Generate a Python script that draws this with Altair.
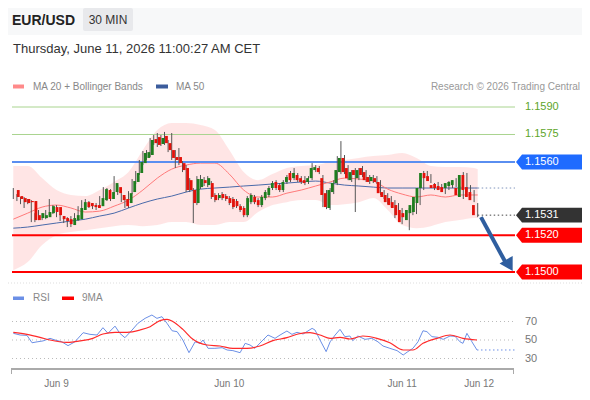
import altair as alt
import pandas as pd

FONT = "Liberation Sans"

# ---------------- data (30-minute EUR/USD bars; index 12 = Jun 9 00:00) ----------------
opens = [1.15447, 1.15414, 1.15403, 1.15398, 1.15387, 1.15387, 1.15310, 1.15294, 1.15294, 1.15299,
         1.15321, 1.15354, 1.15354, 1.15305, 1.15294, 1.15288, 1.15256, 1.15283, 1.15288, 1.15338,
         1.15381, 1.15376, 1.15365, 1.15365, 1.15359, 1.15392, 1.15447, 1.15398, 1.15436, 1.15463,
         1.15420, 1.15398, 1.15376, 1.15436, 1.15491, 1.15540, 1.15594, 1.15622, 1.15638, 1.15725,
         1.15736, 1.15698, 1.15742, 1.15703, 1.15665, 1.15627, 1.15627, 1.15594, 1.15567, 1.15501,
         1.15447, 1.15376, 1.15463, 1.15501, 1.15474, 1.15485, 1.15420, 1.15403, 1.15425, 1.15414,
         1.15403, 1.15398, 1.15387, 1.15359, 1.15349, 1.15310, 1.15381, 1.15409, 1.15392, 1.15365,
         1.15403, 1.15420, 1.15458, 1.15491, 1.15474, 1.15447, 1.15491, 1.15540, 1.15512, 1.15529,
         1.15512, 1.15501, 1.15491, 1.15512, 1.15556, 1.15567, 1.15512, 1.15430, 1.15349, 1.15436,
         1.15485, 1.15545, 1.15622, 1.15567, 1.15501, 1.15556, 1.15512, 1.15567, 1.15545, 1.15518,
         1.15496, 1.15512, 1.15491, 1.15436, 1.15420, 1.15403, 1.15381, 1.15365, 1.15338, 1.15321,
         1.15283, 1.15321, 1.15327, 1.15376, 1.15458, 1.15540, 1.15523, 1.15474, 1.15480, 1.15469,
         1.15463, 1.15458, 1.15469, 1.15474, 1.15458, 1.15409, 1.15529, 1.15463, 1.15436, 1.15365]
closes = [1.15409, 1.15398, 1.15381, 1.15376, 1.15381, 1.15283, 1.15283, 1.15321, 1.15310, 1.15327,
          1.15359, 1.15327, 1.15310, 1.15288, 1.15278, 1.15261, 1.15294, 1.15310, 1.15349, 1.15381,
          1.15354, 1.15359, 1.15354, 1.15349, 1.15403, 1.15452, 1.15398, 1.15436, 1.15485, 1.15430,
          1.15392, 1.15359, 1.15430, 1.15496, 1.15540, 1.15600, 1.15649, 1.15654, 1.15720, 1.15703,
          1.15693, 1.15731, 1.15703, 1.15665, 1.15622, 1.15611, 1.15594, 1.15556, 1.15447, 1.15447,
          1.15376, 1.15507, 1.15507, 1.15485, 1.15512, 1.15409, 1.15392, 1.15420, 1.15403, 1.15398,
          1.15376, 1.15354, 1.15359, 1.15338, 1.15310, 1.15403, 1.15420, 1.15381, 1.15365, 1.15409,
          1.15436, 1.15458, 1.15485, 1.15458, 1.15447, 1.15491, 1.15518, 1.15501, 1.15540, 1.15501,
          1.15491, 1.15485, 1.15512, 1.15567, 1.15572, 1.15545, 1.15420, 1.15354, 1.15447, 1.15485,
          1.15556, 1.15622, 1.15545, 1.15512, 1.15545, 1.15529, 1.15556, 1.15529, 1.15501, 1.15491,
          1.15518, 1.15491, 1.15430, 1.15409, 1.15381, 1.15365, 1.15349, 1.15310, 1.15272, 1.15299,
          1.15338, 1.15365, 1.15409, 1.15458, 1.15540, 1.15512, 1.15496, 1.15458, 1.15458, 1.15447,
          1.15436, 1.15485, 1.15491, 1.15501, 1.15420, 1.15529, 1.15447, 1.15409, 1.15392, 1.15310]
highs = [1.15458, 1.15425, 1.15409, 1.15409, 1.15398, 1.15392, 1.15321, 1.15338, 1.15321, 1.15338,
         1.15398, 1.15365, 1.15365, 1.15316, 1.15305, 1.15299, 1.15305, 1.15321, 1.15359, 1.15392,
         1.15398, 1.15387, 1.15376, 1.15376, 1.15414, 1.15463, 1.15458, 1.15452, 1.15523, 1.15474,
         1.15430, 1.15409, 1.15441, 1.15507, 1.15551, 1.15611, 1.15660, 1.15665, 1.15731, 1.15747,
         1.15758, 1.15747, 1.15764, 1.15720, 1.15758, 1.15665, 1.15676, 1.15605, 1.15583, 1.15512,
         1.15458, 1.15523, 1.15529, 1.15518, 1.15523, 1.15496, 1.15430, 1.15430, 1.15436, 1.15425,
         1.15414, 1.15409, 1.15398, 1.15370, 1.15359, 1.15414, 1.15430, 1.15420, 1.15403, 1.15420,
         1.15447, 1.15469, 1.15496, 1.15501, 1.15485, 1.15501, 1.15529, 1.15551, 1.15567, 1.15540,
         1.15523, 1.15523, 1.15523, 1.15594, 1.15583, 1.15578, 1.15529, 1.15447, 1.15458, 1.15501,
         1.15632, 1.15714, 1.15638, 1.15583, 1.15556, 1.15567, 1.15567, 1.15578, 1.15556, 1.15529,
         1.15529, 1.15523, 1.15501, 1.15447, 1.15430, 1.15414, 1.15392, 1.15376, 1.15349, 1.15332,
         1.15349, 1.15376, 1.15420, 1.15469, 1.15551, 1.15551, 1.15534, 1.15485, 1.15491, 1.15480,
         1.15474, 1.15496, 1.15501, 1.15512, 1.15469, 1.15545, 1.15540, 1.15474, 1.15447, 1.15376]
lows = [1.15398, 1.15387, 1.15370, 1.15349, 1.15370, 1.15272, 1.15272, 1.15283, 1.15283, 1.15288,
        1.15310, 1.15316, 1.15299, 1.15278, 1.15267, 1.15245, 1.15245, 1.15272, 1.15278, 1.15327,
        1.15343, 1.15349, 1.15343, 1.15338, 1.15349, 1.15381, 1.15387, 1.15387, 1.15425, 1.15420,
        1.15381, 1.15349, 1.15349, 1.15425, 1.15480, 1.15529, 1.15583, 1.15611, 1.15627, 1.15693,
        1.15682, 1.15687, 1.15693, 1.15654, 1.15611, 1.15567, 1.15583, 1.15545, 1.15436, 1.15436,
        1.15267, 1.15365, 1.15452, 1.15469, 1.15463, 1.15398, 1.15381, 1.15392, 1.15392, 1.15387,
        1.15365, 1.15343, 1.15349, 1.15327, 1.15299, 1.15299, 1.15370, 1.15370, 1.15354, 1.15354,
        1.15392, 1.15409, 1.15447, 1.15447, 1.15436, 1.15436, 1.15480, 1.15491, 1.15501, 1.15491,
        1.15480, 1.15474, 1.15480, 1.15501, 1.15545, 1.15534, 1.15354, 1.15343, 1.15338, 1.15425,
        1.15474, 1.15534, 1.15534, 1.15501, 1.15491, 1.15327, 1.15501, 1.15518, 1.15491, 1.15480,
        1.15485, 1.15480, 1.15420, 1.15398, 1.15370, 1.15354, 1.15294, 1.15299, 1.15261, 1.15288,
        1.15228, 1.15310, 1.15316, 1.15365, 1.15447, 1.15501, 1.15485, 1.15447, 1.15447, 1.15436,
        1.15425, 1.15447, 1.15458, 1.15463, 1.15409, 1.15398, 1.15436, 1.15398, 1.15381, 1.15299]

ind_idx = [0, 4, 8, 12, 16, 20, 24, 28, 32, 36, 40, 44, 48, 52, 56, 60, 64, 68, 72, 76,
           80, 84, 88, 92, 96, 100, 104, 108, 112, 116, 120, 124, 128, 129]
bb_upper = [1.15578, 1.15578, 1.15512, 1.15447, 1.15420, 1.15414, 1.15447, 1.15491, 1.15545, 1.15665,
            1.15774, 1.15813, 1.15813, 1.15802, 1.15774, 1.15665, 1.15545, 1.15501, 1.15534, 1.15567,
            1.15578, 1.15583, 1.15600, 1.15611, 1.15622, 1.15632, 1.15638, 1.15649, 1.15622, 1.15578,
            1.15572, 1.15572, 1.15567, 1.15561]
bb_lower = [1.15010, 1.15054, 1.15147, 1.15201, 1.15218, 1.15228, 1.15239, 1.15250, 1.15256, 1.15250,
            1.15256, 1.15272, 1.15272, 1.15256, 1.15256, 1.15272, 1.15272, 1.15327, 1.15365, 1.15381,
            1.15392, 1.15392, 1.15365, 1.15370, 1.15381, 1.15403, 1.15338, 1.15256, 1.15239, 1.15250,
            1.15272, 1.15283, 1.15294, 1.15294]
ma20 = [1.15288, 1.15321, 1.15354, 1.15365, 1.15349, 1.15327, 1.15332, 1.15359, 1.15392, 1.15447,
        1.15512, 1.15561, 1.15583, 1.15594, 1.15594, 1.15534, 1.15447, 1.15409, 1.15409, 1.15430,
        1.15447, 1.15469, 1.15491, 1.15512, 1.15507, 1.15496, 1.15452, 1.15425, 1.15409, 1.15420,
        1.15409, 1.15420, 1.15420, 1.15420]
ma50 = [1.15239, 1.15245, 1.15256, 1.15267, 1.15278, 1.15288, 1.15305, 1.15321, 1.15349, 1.15376,
        1.15398, 1.15414, 1.15436, 1.15452, 1.15458, 1.15463, 1.15469, 1.15474, 1.15480, 1.15485,
        1.15491, 1.15496, 1.15485, 1.15474, 1.15469, 1.15463, 1.15458, 1.15458, 1.15458, 1.15458,
        1.15458, 1.15458, 1.15458, 1.15458]

rsi_idx = [0, 1.9, 3.8, 5.2, 6.6, 8.25, 10.2, 11.6, 13.5, 15.2, 17.1, 19.4, 21.3, 23.25, 24.9, 26.3,
           28.25, 29.6, 31, 33, 34.6, 36.6, 38.5, 39.9, 41.3, 42.7, 44.1, 45.5, 47.1, 48.8, 50.5, 51.9,
           52.7, 54.1, 56, 58, 59.4, 61, 63, 64.4, 65.75, 67.1, 69.1, 70.75, 72.7, 74.1, 76, 77.4, 78.8,
           80.5, 83, 83.8, 85.2, 86.9, 88, 89.4, 90.75, 92.1, 93.5, 94.3, 95.7, 97.7, 99.6, 101.3, 102.7,
           104.6, 106.6, 108.3, 109.6, 111, 112.4, 113.8, 114.9, 116.3, 118, 119.4, 121.3, 122.7, 124.1,
           124.9, 126, 127.4, 128.8]
rsi_val = [57.2, 55.4, 55.0, 47.0, 48.0, 49.0, 51.8, 50.0, 48.0, 43.9, 48.0, 57.9, 56.1, 55.4, 63.3, 57.2,
           65.0, 57.2, 52.5, 60.8, 68.0, 73.4, 77.0, 73.4, 75.2, 68.0, 60.0, 59.0, 50.0, 36.3, 48.0, 46.4,
           50.0, 41.0, 41.0, 41.7, 39.2, 38.5, 36.3, 46.4, 44.6, 41.0, 49.0, 55.4, 51.8, 55.4, 59.7, 56.1, 58.3,
           56.5, 62.6, 60.8, 50.0, 37.4, 48.0, 55.4, 61.5, 53.6, 54.3, 49.3, 54.3, 50.7, 51.8, 48.0, 43.5,
           41.0, 38.5, 33.8, 37.4, 41.0, 48.0, 60.0, 59.0, 53.6, 52.9, 50.7, 54.3, 54.0, 48.0,
           46.4, 57.2, 48.0, 39.2]
rsi_ma_idx = [0, 3.8, 7.4, 10.2, 14.9, 18.5, 22.1, 24.9, 28.25, 31.6, 35.2, 38, 40.75, 42.7, 44.4, 47.1,
              49.9, 53.8, 57.4, 61, 64.9, 68.5, 72.1, 76, 79.1, 82.4, 85.2, 88, 90.75, 93.5, 97.1, 101,
              104.6, 108.3, 111, 113.8, 117.7, 121.3, 124.9, 128.8]
rsi_ma_val = [58.3, 56.1, 52.9, 50.0, 47.5, 49.0, 51.8, 56.5, 58.3, 58.3, 60.8, 64.4, 70.9, 72.4, 69.8, 61.5,
              50.7, 44.6, 43.5, 41.0, 41.0, 43.5, 49.3, 52.5, 56.5, 57.9, 55.4, 51.8, 52.9, 51.1, 54.3, 51.8,
              47.0, 39.2, 39.2, 46.4, 51.8, 55.4, 51.8, 50.0]

green_levels = [1.1590, 1.1575]
box_levels = [1.1560, 1.1531, 1.1520, 1.1500]
box_colors = ["#1f6bff", "#333333", "#ff0000", "#ff0000"]
red_levels = [1.1520, 1.1500]
blue_levels = [1.1560]
last_price = 1.1531
arrow_idx = [129.9, 136.6]
arrow_price = [1.15299, 1.15057]
arrow_head_idx = [137.8]
arrow_head_price = [1.15036]
date_ticks = [12, 60, 108, 129.4]
date_labels = ["Jun 9", "Jun 10", "Jun 11", "Jun 12"]
rsi_levels = [70, 50, 30]

# ---------------- tables ----------------
n = len(opens)
candles = pd.DataFrame({"i": list(range(n)), "open": opens, "high": highs,
                        "low": lows, "close": closes})
candles["col"] = ["#1f7d1f" if c >= o else "#e3120b" for o, c in zip(opens, closes)]
ind = pd.DataFrame({"i": ind_idx, "upper": bb_upper, "lower": bb_lower,
                    "ma20": ma20, "ma50": ma50})
rsi = pd.DataFrame({"i": rsi_idx, "v": rsi_val})
rsima = pd.DataFrame({"i": rsi_ma_idx, "v": rsi_ma_val})
boxes = pd.DataFrame({"p": box_levels, "col": box_colors,
                      "label": [f"{v:.4f}" for v in box_levels]})
greens = pd.DataFrame({"p": green_levels, "label": [f"{v:.4f}" for v in green_levels]})
reds = pd.DataFrame({"p": red_levels})
blues = pd.DataFrame({"p": blue_levels})
arrow = pd.DataFrame({"i": arrow_idx, "p": arrow_price})
head = pd.DataFrame({"i": arrow_head_idx, "p": arrow_head_price})
dates = pd.DataFrame({"i": date_ticks, "label": date_labels})
rsilv = pd.DataFrame({"v": rsi_levels, "label": [str(v) for v in rsi_levels]})
last_c = pd.DataFrame({"i": [n - 1], "p": [last_price]})
last_m = pd.DataFrame({"i": [ind_idx[-1]], "p": [ma50[-1]]})
last_r = pd.DataFrame({"i": [rsi_idx[-1]], "v": [rsi_val[-1]]})

# ---------------- scales ----------------
X = alt.Scale(domain=[-0.639, 139.08], range=[3, 506], nice=False, zero=False)
YP = alt.Scale(domain=[1.1490, 1.1600], range=[282.3, 80.67], nice=False, zero=False)
YR = alt.Scale(domain=[0, 100], range=[378.25, 285.75], nice=False, zero=False)


def xq(f):
    return alt.X(f, type="quantitative", scale=X, axis=None)


def yp(f):
    return alt.Y(f, type="quantitative", scale=YP, axis=None)


def yr(f):
    return alt.Y(f, type="quantitative", scale=YR, axis=None)


def txt(s, x, y, size=10, color="#888", align="left", weight="normal", baseline="middle"):
    return alt.Chart(pd.DataFrame({"t": [s]})).mark_text(
        align=align, baseline=baseline, font=FONT, fontSize=size, color=color,
        fontWeight=weight).encode(x=alt.value(x), y=alt.value(y), text="t:N")


def rect(x, x2, y, y2, color, radius=0):
    return alt.Chart(pd.DataFrame({"a": [0]})).mark_rect(
        color=color, cornerRadius=radius).encode(
        x=alt.value(x), x2=alt.value(x2), y=alt.value(y), y2=alt.value(y2))


def hrule(x, x2, y, color, width=1, dash=None):
    kw = dict(color=color, strokeWidth=width)
    if dash:
        kw["strokeDash"] = dash
    return alt.Chart(pd.DataFrame({"a": [0]})).mark_rule(**kw).encode(
        x=alt.value(x), x2=alt.value(x2), y=alt.value(y), y2=alt.value(y2 if False else y))


BOX = "M-1,0 L-0.83,-0.21 L1,-0.21 L1,0.21 L-0.83,0.21 Z"

layers = [
    # header
    rect(0, 574, 0, 27, "#f7f8f9"),
    txt("EUR/USD", 4, 17, size=14, color="#222", weight="bold", baseline="alphabetic"),
    rect(75, 125, 0, 23, "#e8e9ec", radius=2),
    txt("30 MIN", 100, 16, size=12, color="#333", align="center", baseline="alphabetic"),
    txt("Thursday, June 11, 2026 11:00:27 AM CET", 5, 45, size=13, color="#333",
        baseline="alphabetic"),
    rect(5, 16, 76.5, 80.5, "#ff8a8a"),
    txt("MA 20 + Bollinger Bands", 25, 78.5),
    rect(148, 160, 76.5, 80.5, "#3b5c9c"),
    txt("MA 50", 168, 78.5),
    txt("Research \u00a9 2026 Trading Central", 572, 78.5, color="#999", align="right"),

    # Bollinger band and moving averages
    alt.Chart(ind).mark_area(color="#ffdede", opacity=0.8, interpolate="monotone").encode(
        x=xq("i"), y=yp("upper"), y2=alt.Y2("lower")),
    alt.Chart(ind).mark_line(color="#4a6aaa", strokeWidth=1, interpolate="monotone").encode(
        x=xq("i"), y=yp("ma50")),
    alt.Chart(ind).mark_line(color="#ff7a7a", strokeWidth=1, interpolate="monotone").encode(
        x=xq("i"), y=yp("ma20")),

    # level lines
    alt.Chart(greens).mark_rule(color="#a9d48f", strokeWidth=1).encode(
        x=alt.value(4), x2=alt.value(507), y=yp("p")),
    alt.Chart(blues).mark_rule(color="#5a8ef0", strokeWidth=2).encode(
        x=alt.value(4), x2=alt.value(507), y=yp("p")),
    alt.Chart(reds).mark_rule(color="#ff0000", strokeWidth=2).encode(
        x=alt.value(4), x2=alt.value(507), y=yp("p")),

    # candles
    alt.Chart(candles).mark_rule(color="#555", strokeWidth=1).encode(
        x=xq("i"), y=yp("low"), y2=alt.Y2("high")),
    alt.Chart(candles).mark_bar(size=2.8).encode(
        x=xq("i"), y=yp("open"), y2=alt.Y2("close"), color=alt.Color("col:N", scale=None)),

    # dotted extensions
    alt.Chart(last_m).mark_rule(color="#7f93bb", strokeWidth=1, strokeDash=[1.5, 2.5]).encode(
        x=xq("i"), x2=alt.value(507), y=yp("p")),
    alt.Chart(last_c).mark_rule(color="#444", strokeWidth=1, strokeDash=[1.5, 2.5]).encode(
        x=xq("i"), x2=alt.value(507), y=yp("p")),

    # arrow
    alt.Chart(arrow).mark_line(color="#2f5e9f", strokeWidth=4).encode(x=xq("i"), y=yp("p")),
    alt.Chart(head).mark_point(shape="triangle-up", filled=True, size=230, angle=150,
                               color="#2f5e9f", opacity=1).encode(x=xq("i"), y=yp("p")),

    # right labels
    alt.Chart(greens).mark_text(align="left", baseline="middle", font=FONT, fontSize=11,
                                color="#5da52a").encode(x=alt.value(517), y=yp("p"), text="label:N"),
    alt.Chart(boxes).mark_point(shape=BOX, size=5041, filled=True, opacity=1, strokeWidth=0).encode(
        x=alt.value(543.5), y=yp("p"), color=alt.Color("col:N", scale=None)),
    alt.Chart(boxes).mark_text(align="left", baseline="middle", font=FONT, fontSize=11,
                               color="white").encode(x=alt.value(517), y=yp("p"), text="label:N"),

    # panel separator
    alt.Chart(pd.DataFrame({"a": [0]})).mark_rule(color="#dddddd", strokeDash=[1, 2]).encode(
        x=alt.value(0), x2=alt.value(574), y=alt.value(275)),

    # RSI panel
    rect(5, 16, 288.5, 292, "#6b8fe6"),
    txt("RSI", 25, 290),
    rect(54, 66, 288.5, 292, "#ff0000"),
    txt("9MA", 74, 290),
    alt.Chart(rsilv).mark_rule(color="#bbbbbb", strokeDash=[1, 3]).encode(
        x=alt.value(4), x2=alt.value(507), y=yr("v")),
    alt.Chart(rsilv).mark_text(align="left", baseline="middle", font=FONT, fontSize=11,
                               color="#777").encode(x=alt.value(517), y=yr("v"), text="label:N"),
    alt.Chart(rsi).mark_line(color="#6b8fe6", strokeWidth=1).encode(x=xq("i"), y=yr("v")),
    alt.Chart(rsima).mark_line(color="#ff2a2a", strokeWidth=1.2, interpolate="monotone").encode(
        x=xq("i"), y=yr("v")),
    alt.Chart(last_r).mark_rule(color="#6b8fe6", strokeWidth=1, strokeDash=[1.5, 2.5]).encode(
        x=xq("i"), x2=alt.value(507), y=yr("v")),

    # time axis
    alt.Chart(pd.DataFrame({"a": [0]})).mark_rule(color="#aaaaaa", strokeWidth=2).encode(
        x=alt.value(3), x2=alt.value(506), y=alt.value(361)),
    alt.Chart(pd.DataFrame({"a": [0]})).mark_rule(color="#aaaaaa", strokeWidth=1).encode(
        x=alt.value(3.5), y=alt.value(361), y2=alt.value(366)),
    alt.Chart(pd.DataFrame({"a": [0]})).mark_rule(color="#aaaaaa", strokeWidth=1).encode(
        x=alt.value(505.5), y=alt.value(361), y2=alt.value(366)),
    alt.Chart(dates).mark_text(align="center", baseline="alphabetic", font=FONT, fontSize=10,
                               color="#777").encode(x=xq("i"), y=alt.value(379), text="label:N"),
]

chart = alt.layer(*layers).resolve_scale(x="independent", y="independent").properties(
    width=574, height=384, padding=0,
    autosize=alt.AutoSizeParams(type="none"),
).configure_view(strokeWidth=0)

chart.save("out.html", embed_options={"renderer": "svg", "actions": False})
